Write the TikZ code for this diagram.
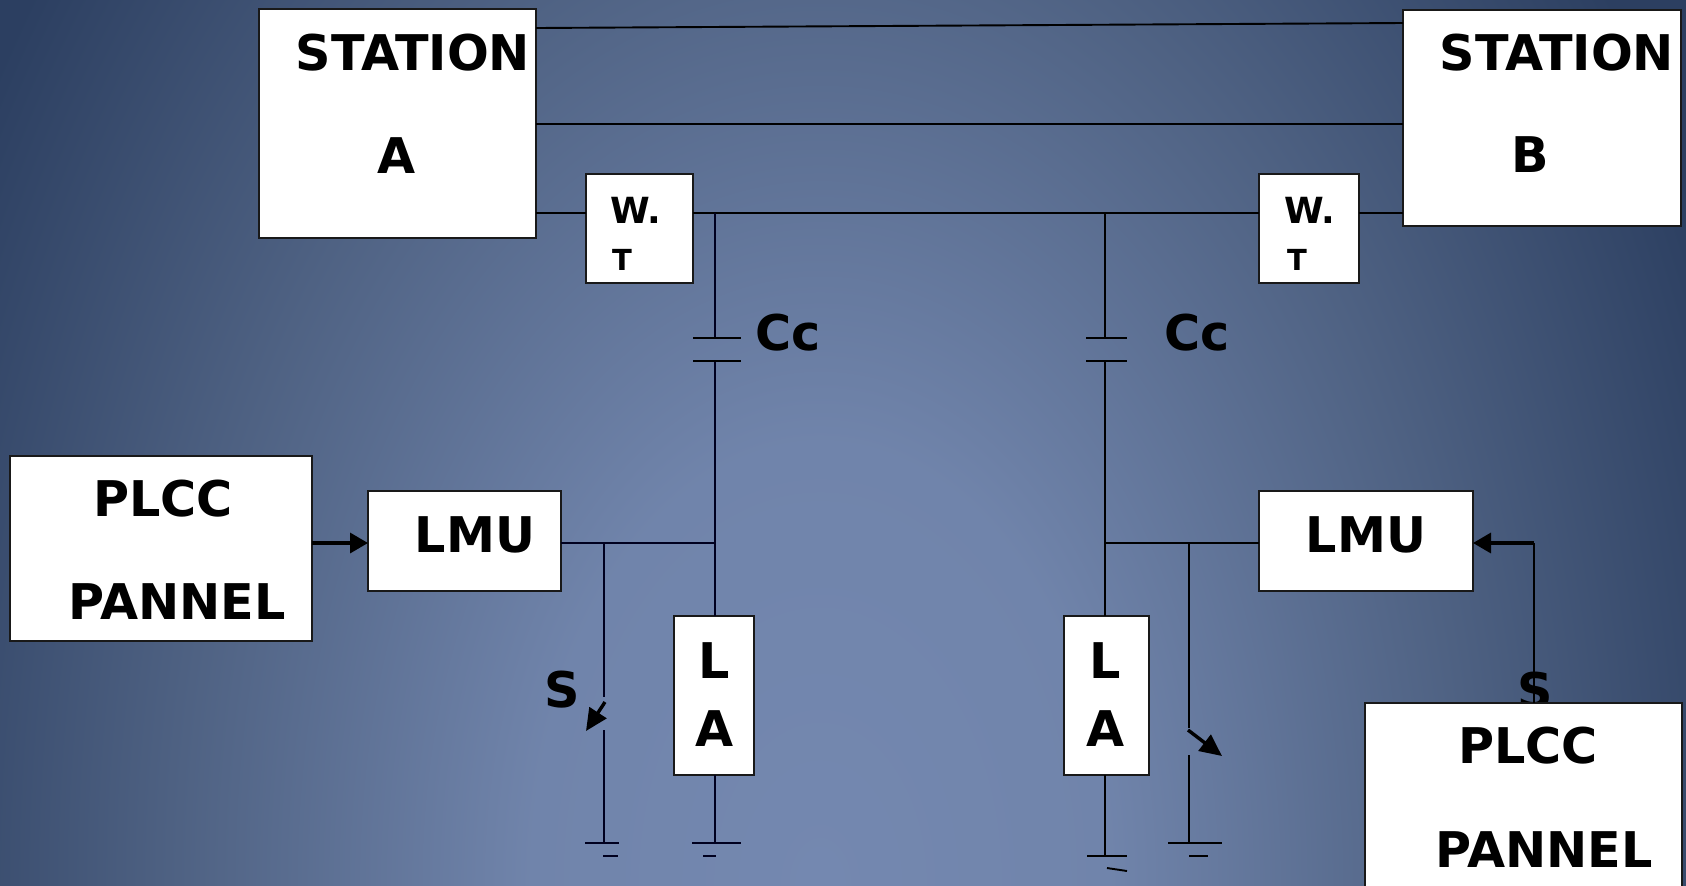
\documentclass[tikz,border=0pt]{standalone}
\usepackage{fontspec}
\setmainfont{DejaVu Sans}
\usetikzlibrary{arrows.meta}
\definecolor{bgdark}{HTML}{2C3F61}
\pgfdeclareradialshading{bgshade}{\pgfpoint{0bp}{0bp}}{%
  rgb(0bp)=(0.455,0.533,0.690);
  rgb(7.2bp)=(0.440,0.518,0.670);
  rgb(16bp)=(0.310,0.385,0.515);
  rgb(24.5bp)=(0.172,0.247,0.380);
  rgb(50bp)=(0.172,0.247,0.380)}
\tikzset{
  x=0.5pt,y=-0.5pt,
  boxs/.style={draw=black!90,fill=white,line width=0.85pt,rectangle,inner sep=0pt,outer sep=0pt},
  wire/.style={draw=black!88!blue,line width=1.25pt},
  thin wire/.style={draw=black,line width=0.95pt},
  bold wire/.style={draw=black,line width=1.7pt},
  riser/.style={draw=black,line width=1.4pt},
  lab/.style={font=\bfseries\fontsize{24.6}{25}\selectfont,anchor=base,inner sep=0pt,text=black},
  small lab/.style={font=\bfseries\fontsize{18}{19}\selectfont,anchor=base,inner sep=0pt,text=black},
  tiny lab/.style={font=\bfseries\fontsize{14.5}{15}\selectfont,anchor=base,inner sep=0pt,text=black},
  head/.style={-{Triangle[length=9pt,width=10pt]}},
  swhead/.style={-{Triangle[length=11pt,width=10pt]}},
}
\newcommand{\pxbox}[5]{\node[boxs,minimum width={(#4-#2)*0.5pt},minimum height={(#5-#3)*0.5pt}] (#1) at ({(#2+#4)/2},{(#3+#5)/2}) {};}
\begin{document}
\begin{tikzpicture}
\useasboundingbox (0,0) rectangle (1686,885);
\fill[bgdark] (0,0) rectangle (1686,885);
\begin{scope}
  \clip (0,0) rectangle (1686,885);
  \shade[shading=bgshade] (820,885) ellipse [x radius=1000,y radius=1530];
\end{scope}
% S partly hidden behind the right panel
\node[lab] (sR) at (1535,708) {S};
% boxes
\pxbox{stA}{259}{9}{536}{238}
\pxbox{stB}{1403}{10}{1681}{226}
\pxbox{wtL}{586}{174}{693}{283}
\pxbox{wtR}{1259}{174}{1359}{283}
\pxbox{plL}{10}{456}{312}{641}
\pxbox{lmuL}{368}{491}{561}{591}
\pxbox{lmuR}{1259}{491}{1473}{591}
\pxbox{laL}{674}{616}{754}{775}
\pxbox{laR}{1064}{616}{1149}{775}
\pxbox{plR}{1365}{703}{1682}{900}
% named junctions
\coordinate (a1) at (stA.east |- 0,28);
\coordinate (b1) at (stB.west |- 0,23);
\coordinate (a2) at (stA.east |- 0,124);
\coordinate (b2) at (stB.west |- 0,124);
\coordinate (a3) at (stA.east |- 0,213);
\coordinate (wl) at (wtL.west |- 0,213);
\coordinate (wle) at (wtL.east |- 0,213);
\coordinate (wr) at (wtR.west |- 0,213);
\coordinate (wre) at (wtR.east |- 0,213);
\coordinate (b3) at (stB.west |- 0,213);
\coordinate (jL) at (715,213);
\coordinate (jR) at (1105,213);
\coordinate (capLa) at (715,338);
\coordinate (capLb) at (715,361);
\coordinate (capRa) at (1105,338);
\coordinate (capRb) at (1105,361);
\coordinate (mL) at (715,543);
\coordinate (mR) at (1105,543);
\coordinate (sL) at (604,543);
\coordinate (sLe) at (604,697);
\coordinate (sLo) at (605,702);
\coordinate (sLa) at (586,731);
\coordinate (sLb) at (604,730);
\coordinate (gS) at (604,843);
\coordinate (gL) at (715,843);
\coordinate (gR) at (1105,856);
\coordinate (sw) at (1189,543);
\coordinate (swe) at (1189,728);
\coordinate (swo) at (1188,730);
\coordinate (swa) at (1222,756);
\coordinate (swb) at (1189,755);
\coordinate (gW) at (1189,843);
\coordinate (pu) at (1534,703);
\coordinate (pc) at (1534,543);
% wires
\draw[thin wire] (a1) -- (b1);
\draw[thin wire] (a2) -- (b2);
\draw[thin wire] (a3) -- (wl);
\draw[thin wire] (wle) -- (wr);
\draw[thin wire] (wre) -- (b3);
\draw[wire] (jL) -- (capLa);
\draw[wire] (capLb) -- (laL.north -| jL);
\draw[thin wire] (jR) -- (capRa);
\draw[thin wire] (capRb) -- (laR.north -| jR);
\draw[thin wire] (693,338) -- (741,338);
\draw[thin wire] (693,361) -- (741,361);
\draw[thin wire] (1086,338) -- (1127,338);
\draw[thin wire] (1086,361) -- (1127,361);
\draw[wire] (lmuL.east |- mL) -- (mL);
\draw[thin wire] (mR) -- (lmuR.west |- mR);
\draw[wire] (sL) -- (sLe);
\draw[wire] (sLb) -- (gS);
\draw[bold wire,swhead] (sLo) -- (sLa);
\draw[wire] (laL.south -| gL) -- (gL);
\draw[thin wire] (laR.south -| gR) -- (gR);
\draw[thin wire] (sw) -- (swe);
\draw[thin wire] (swb) -- (gW);
\draw[bold wire,swhead] (swo) -- (swa);
% grounds
\draw[wire] (585,843) -- (619,843);
\draw[wire] (603,856) -- (618,856);
\draw[wire] (692,843) -- (741,843);
\draw[wire] (703,856) -- (716,856);
\draw[thin wire] (1087,856) -- (1127,856);
\draw[thin wire] (1107,868) -- (1127,871);
\draw[thin wire] (1168,843) -- (1222,843);
\draw[thin wire] (1189,856) -- (1208,856);
% arrows
\draw[bold wire,head] (plL.east |- mL) -- (lmuL.west |- mL);
\draw[riser] (pu) -- (pc);
\draw[bold wire,head] (pc) -- (lmuR.east |- pc);
% labels
\node[lab] (t1) at (413,70) {STATION};
\node[lab] (t2) at (397,173) {A};
\node[lab] (t3) at (1557,70) {STATION};
\node[lab] (t4) at (1530,172) {B};
\node[small lab] (t5) at (636,223) {W.};
\node[tiny lab] (t6) at (622,270) {T};
\node[small lab] (t7) at (1310,223) {W.};
\node[tiny lab] (t8) at (1297,270) {T};
\node[lab] (t9) at (163,516) {PLCC};
\node[lab] (t10) at (177,619) {PANNEL};
\node[lab] (t11) at (475,552) {LMU};
\node[lab] (t12) at (1366,552) {LMU};
\node[lab] (t13) at (1528,763) {PLCC};
\node[lab] (t14) at (1544,867) {PANNEL};
\node[lab] (t15) at (788,350) {Cc};
\node[lab] (t16) at (1197,350) {Cc};
\node[lab] (t17) at (562,707) {S};
\node[lab] (t18) at (714,678) {L};
\node[lab] (t19) at (715,746) {A};
\node[lab] (t20) at (1105,678) {L};
\node[lab] (t21) at (1106,746) {A};
\end{tikzpicture}
\end{document}
